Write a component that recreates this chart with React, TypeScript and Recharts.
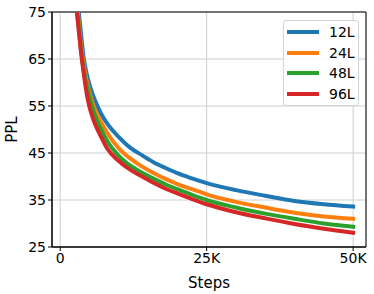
import React from 'react';
import {
  LineChart,
  Line,
  XAxis,
  YAxis,
  CartesianGrid,
  ReferenceArea,
  Label,
} from 'recharts';

// training steps (x) and perplexity curves per model depth
const steps = [2000, 2500, 3000, 3500, 4000, 4500, 5000, 5500, 6000, 7000, 8000, 10000, 12000, 14000, 16000, 18000, 20000, 22500, 25000, 30000, 35000, 40000, 45000, 50000];
const ppl12L = [95, 83, 77, 71, 65.3, 62, 59.5, 57.6, 56, 53.3, 51.3, 48.4, 46.1, 44.5, 43.0, 41.8, 40.7, 39.6, 38.6, 37.1, 35.9, 34.8, 34.1, 33.6];
const ppl24L = [93, 81, 75, 68.5, 63.8, 60.5, 57.8, 55.7, 54, 51.5, 49.3, 46.0, 43.8, 42.1, 40.7, 39.5, 38.4, 37.3, 36.2, 34.6, 33.4, 32.3, 31.5, 31.0];
const ppl48L = [92, 80, 74, 67.5, 62.8, 59.5, 56.8, 54.6, 52.8, 50.0, 47.6, 44.4, 42.3, 40.8, 39.5, 38.3, 37.3, 36.1, 35.0, 33.4, 32.1, 31.0, 30.0, 29.3];
const ppl96L = [92, 80, 73, 67, 62, 57.8, 54.8, 52.7, 51.0, 48.4, 46.0, 43.3, 41.4, 40.0, 38.6, 37.4, 36.4, 35.2, 34.1, 32.4, 31.1, 29.9, 28.9, 28.05];
const xTicks = [0, 25000, 50000];
const yTicks = [25, 35, 45, 55, 65, 75];

const X_DOMAIN: [number, number] = [-1400, 52200];
const Y_DOMAIN: [number, number] = [25, 75];
const FONT = '"DejaVu Sans", sans-serif';

const series = [
  { key: 'l12', name: '12L', color: '#1f77b4' },
  { key: 'l24', name: '24L', color: '#ff7f0e' },
  { key: 'l48', name: '48L', color: '#2ca02c' },
  { key: 'l96', name: '96L', color: '#d62728' },
];

const data = steps.map((step, i) => ({
  step,
  l12: ppl12L[i],
  l24: ppl24L[i],
  l48: ppl48L[i],
  l96: ppl96L[i],
}));

const fmtSteps = (v: number) => (v === 0 ? '0' : `${v / 1000}K`);

// matplotlib-like boxed legend, placed over the chart
const LegendBox = () => (
  <div
    style={{
      position: 'absolute',
      left: 283,
      top: 20,
      width: 76,
      height: 86,
      boxSizing: 'border-box',
      border: '1px solid #d4d4d4',
      borderRadius: 3,
      background: 'rgba(255,255,255,0.85)',
      padding: '0 0 0 3px',
      fontFamily: FONT,
      fontSize: 14,
      color: '#000',
    }}
  >
    {series.map((s) => (
      <div key={s.key} style={{ display: 'flex', alignItems: 'center', height: 20.7, marginTop: s.key === 'l12' ? 0.5 : 0 }}>
        <span style={{ display: 'inline-block', width: 32, height: 4, background: s.color, marginRight: 10 }} />
        <span>{s.name}</span>
      </div>
    ))}
  </div>
);

const PplLabel = ({ viewBox }: any) => {
  const cy = viewBox.y + viewBox.height / 2;
  return (
    <text x={12} y={cy} transform={`rotate(-90, 12, ${cy})`} textAnchor="middle" dominantBaseline="central" fill="#000" fontSize={15} fontFamily={FONT}>
      PPL
    </text>
  );
};

export default function App() {
  return (
    <div style={{ position: 'absolute', left: 0, top: 0, width: 374, height: 294, background: '#fff' }}>
      <LineChart width={374} height={294} data={data} margin={{ top: 12, right: 8, bottom: 0, left: 0 }}>
        <CartesianGrid stroke="#cfcfcf" strokeWidth={1} />
        <XAxis
          dataKey="step"
          type="number"
          domain={X_DOMAIN}
          ticks={xTicks}
          allowDataOverflow
          tickFormatter={fmtSteps}
          height={47}
          stroke="#000"
          tickSize={4}
          tick={{ fill: '#000', fontSize: 14, fontFamily: FONT }}
        >
          <Label value="Steps" position="insideBottom" offset={6} style={{ fill: '#000', fontSize: 15, fontFamily: FONT }} />
        </XAxis>
        <YAxis
          type="number"
          domain={Y_DOMAIN}
          ticks={yTicks}
          allowDataOverflow
          width={52}
          stroke="#000"
          tickSize={4}
          interval={0}
          tick={{ fill: '#000', fontSize: 14, fontFamily: FONT }}
        >
          <Label content={<PplLabel />} />
        </YAxis>
        <ReferenceArea x1={X_DOMAIN[0]} x2={X_DOMAIN[1]} y1={Y_DOMAIN[0]} y2={Y_DOMAIN[1]} fill="none" stroke="#000" strokeWidth={1} />
        {series.map((s) => (
          <Line
            key={s.key}
            dataKey={s.key}
            name={s.name}
            type="monotone"
            stroke={s.color}
            strokeWidth={4}
            strokeLinecap="square"
            dot={false}
            isAnimationActive={false}
          />
        ))}
      </LineChart>
      <LegendBox />
    </div>
  );
}
